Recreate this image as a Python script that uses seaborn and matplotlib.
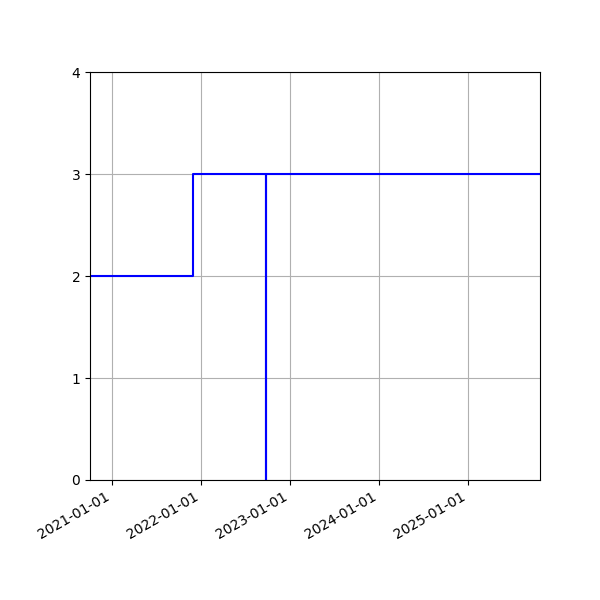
import pandas as pd
import matplotlib
matplotlib.use('Agg')
import matplotlib.pyplot as plt
import matplotlib.dates as mdates
import seaborn as sns

# step series
dates = ['2020-10-03', '2021-11-28', '2022-09-24', '2022-09-24', '2025-10-24']
values = [2, 3, 0, 3, 3]

data = pd.DataFrame({'date': pd.to_datetime(dates), 'value': values})

fig, ax = plt.subplots(figsize=(6, 6), dpi=100)
sns.lineplot(data=data, x='date', y='value', ax=ax, color='blue',
             estimator=None, sort=False, drawstyle='steps-post', linewidth=1.5)

ax.set_xlim(data['date'].min(), data['date'].max())
ax.set_ylim(0, 4)
ax.set_yticks([0, 1, 2, 3, 4])
ax.xaxis.set_major_locator(mdates.YearLocator())
ax.xaxis.set_major_formatter(mdates.DateFormatter('%Y-%m-%d'))
ax.set_xlabel('')
ax.set_ylabel('')
ax.grid(True)
fig.autofmt_xdate()
fig.subplots_adjust(left=0.15, right=0.9, top=0.88, bottom=0.2)

fig.savefig('out.png', dpi=100)
